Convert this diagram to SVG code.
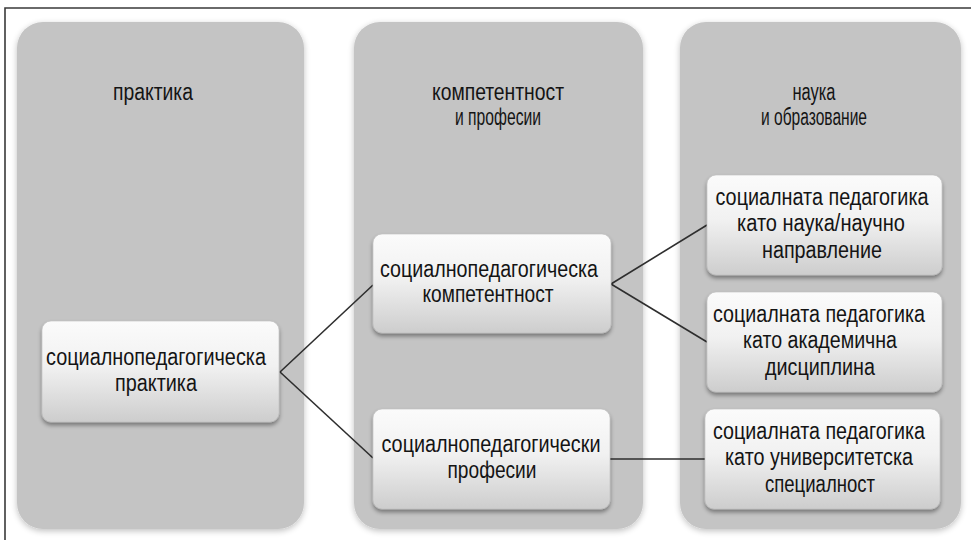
<svg xmlns="http://www.w3.org/2000/svg" width="971" height="540" viewBox="0 0 971 540">
  <defs>
    <linearGradient id="boxFill" x1="0" y1="0" x2="0" y2="1">
      <stop offset="0" stop-color="#fbfbfb"/>
      <stop offset="0.45" stop-color="#f1f1f1"/>
      <stop offset="1" stop-color="#cdcdcd"/>
    </linearGradient>
    <filter id="colShadow" x="-10%" y="-10%" width="120%" height="120%">
      <feGaussianBlur in="SourceAlpha" stdDeviation="3"/>
      <feOffset dx="0" dy="2" result="b"/>
      <feComponentTransfer><feFuncA type="linear" slope="0.25"/></feComponentTransfer>
      <feMerge><feMergeNode/><feMergeNode in="SourceGraphic"/></feMerge>
    </filter>
    <filter id="boxShadow" x="-10%" y="-10%" width="120%" height="130%">
      <feGaussianBlur in="SourceAlpha" stdDeviation="2"/>
      <feOffset dx="0" dy="3" result="b"/>
      <feComponentTransfer><feFuncA type="linear" slope="0.4"/></feComponentTransfer>
      <feMerge><feMergeNode/><feMergeNode in="SourceGraphic"/></feMerge>
    </filter>
  </defs>
  <style>
    .frame { fill: none; stroke: #3a3a3a; stroke-width: 1.6; }
    .col { fill: #c4c4c4; filter: url(#colShadow); }
    .box { fill: url(#boxFill); stroke: #bdbdbd; stroke-width: 0.6; filter: url(#boxShadow); }
    .t { font-family: "Liberation Sans", Arial, sans-serif; font-size: 23px; fill: #141414; text-anchor: middle; }
    .link { fill: none; stroke: #2e2e2e; stroke-width: 1.6; }
  </style>

  <rect x="0" y="0" width="971" height="540" fill="#ffffff"/>
  <path class="frame" d="M5,541 V8 H972"/>

  <!-- column backgrounds with their headings -->
  <g id="col-praktika">
    <rect class="col" x="17" y="22" width="287" height="507" rx="26"/>
    <text class="t" x="153" y="100" textLength="80" lengthAdjust="spacingAndGlyphs">практика</text>
  </g>
  <g id="col-kompetentnost">
    <rect class="col" x="354" y="22" width="289" height="507" rx="26"/>
    <text class="t" x="498" y="100" textLength="132" lengthAdjust="spacingAndGlyphs">компетентност</text>
    <text class="t" x="498" y="125" textLength="86" lengthAdjust="spacingAndGlyphs">и професии</text>
  </g>
  <g id="col-nauka">
    <rect class="col" x="680" y="22" width="281" height="507" rx="26"/>
    <text class="t" x="814" y="100" textLength="43" lengthAdjust="spacingAndGlyphs">наука</text>
    <text class="t" x="814" y="125" textLength="106" lengthAdjust="spacingAndGlyphs">и образование</text>
  </g>

  <!-- connectors -->
  <g id="connectors">
    <path class="link" d="M280,372 L373,285"/>
    <path class="link" d="M280,372 L373,458"/>
    <path class="link" d="M611,284 L707,225"/>
    <path class="link" d="M611,284 L707,342"/>
    <path class="link" d="M610,459 L705,459"/>
  </g>

  <!-- nodes -->
  <g id="node-praktika">
    <rect class="box" x="42" y="321" width="237" height="101" rx="9"/>
    <text class="t" x="156" y="365" textLength="220" lengthAdjust="spacingAndGlyphs">социалнопедагогическа</text>
    <text class="t" x="156" y="391" textLength="82" lengthAdjust="spacingAndGlyphs">практика</text>
  </g>
  <g id="node-kompetentnost">
    <rect class="box" x="373" y="234" width="238" height="99" rx="9"/>
    <text class="t" x="489" y="277" textLength="218" lengthAdjust="spacingAndGlyphs">социалнопедагогическа</text>
    <text class="t" x="488" y="302" textLength="131" lengthAdjust="spacingAndGlyphs">компетентност</text>
  </g>
  <g id="node-profesii">
    <rect class="box" x="373" y="409" width="237" height="100" rx="9"/>
    <text class="t" x="491" y="452" textLength="219" lengthAdjust="spacingAndGlyphs">социалнопедагогически</text>
    <text class="t" x="492" y="478" textLength="89" lengthAdjust="spacingAndGlyphs">професии</text>
  </g>
  <g id="node-nauka">
    <rect class="box" x="707" y="175" width="235" height="100" rx="9"/>
    <text class="t" x="822" y="205" textLength="213" lengthAdjust="spacingAndGlyphs">социалната педагогика</text>
    <text class="t" x="821" y="231" textLength="168" lengthAdjust="spacingAndGlyphs">като наука/научно</text>
    <text class="t" x="822" y="258" textLength="120" lengthAdjust="spacingAndGlyphs">направление</text>
  </g>
  <g id="node-disciplina">
    <rect class="box" x="707" y="292" width="235" height="100" rx="9"/>
    <text class="t" x="819" y="322" textLength="212" lengthAdjust="spacingAndGlyphs">социалната педагогика</text>
    <text class="t" x="820" y="348" textLength="154" lengthAdjust="spacingAndGlyphs">като академична</text>
    <text class="t" x="820" y="375" textLength="110" lengthAdjust="spacingAndGlyphs">дисциплина</text>
  </g>
  <g id="node-specialnost">
    <rect class="box" x="705" y="409" width="235" height="100" rx="9"/>
    <text class="t" x="819" y="439" textLength="212" lengthAdjust="spacingAndGlyphs">социалната педагогика</text>
    <text class="t" x="819" y="465" textLength="188" lengthAdjust="spacingAndGlyphs">като университетска</text>
    <text class="t" x="820" y="492" textLength="110" lengthAdjust="spacingAndGlyphs">специалност</text>
  </g>
</svg>
